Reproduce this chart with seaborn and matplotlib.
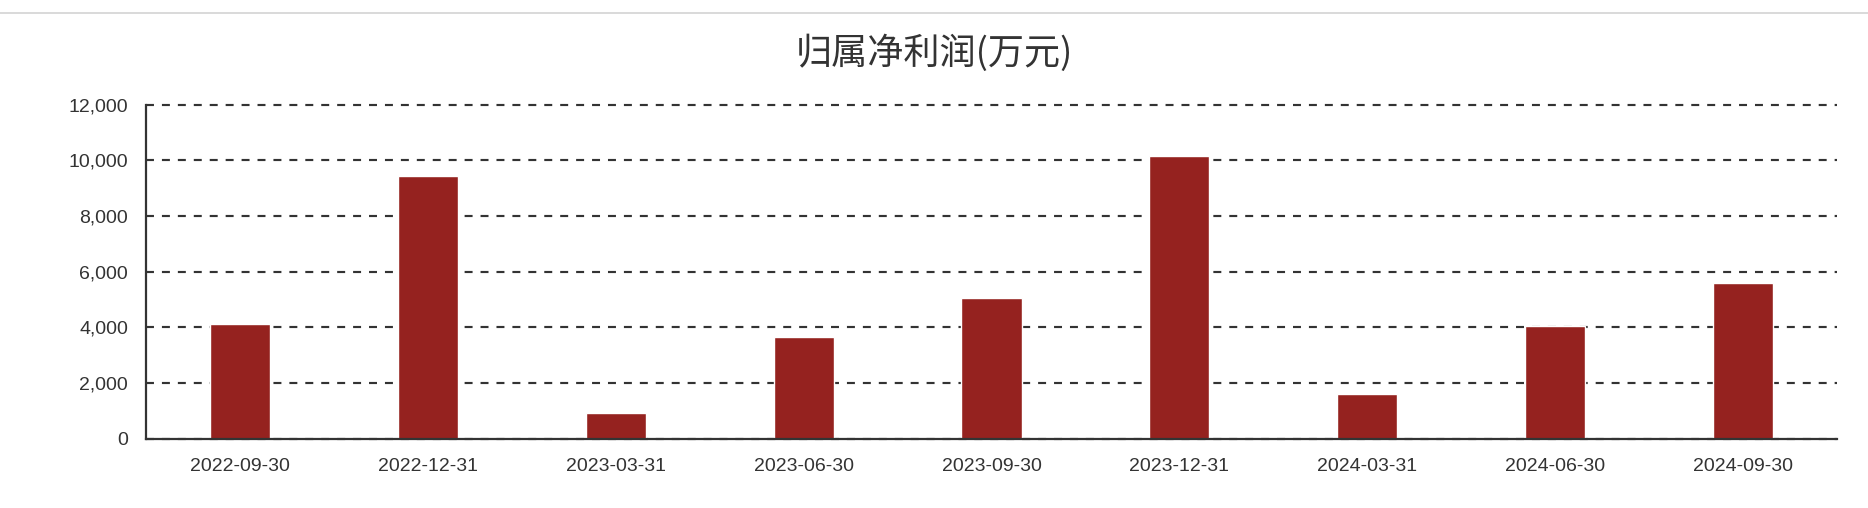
import matplotlib
matplotlib.use("Agg")
import matplotlib.pyplot as plt
from matplotlib.lines import Line2D
from matplotlib.ticker import FuncFormatter
import seaborn as sns
import pandas as pd

# Data
periods = ['2022-09-30', '2022-12-31', '2023-03-31', '2023-06-30', '2023-09-30',
           '2023-12-31', '2024-03-31', '2024-06-30', '2024-09-30']
net_profit = [4110, 9430, 910, 3645, 5055, 10150, 1620, 4060, 5585]
y_ticks = [0, 2000, 4000, 6000, 8000, 10000, 12000]

title_text = '归属净利润(万元)'
bar_color = '#95221f'
text_color = '#333333'

sns.set_theme(style='white')
plt.rcParams['font.family'] = ['Liberation Sans', 'DejaVu Sans']

df = pd.DataFrame({'period': periods, 'value': net_profit})

fig = plt.figure(figsize=(18.68, 5.08), dpi=100)
ax = fig.add_axes([0.0782, 0.1364, 0.9052, 0.6575])

sns.barplot(data=df, x='period', y='value', color=bar_color, width=0.32,
            saturation=1, ax=ax)

ax.set_xlim(-0.5, len(periods) - 0.5)
ax.set_ylim(0, 12000)
ax.set_yticks(y_ticks)
ax.yaxis.set_major_formatter(FuncFormatter(lambda v, p: f'{int(v):,}'))

# dashed horizontal grid
ax.yaxis.grid(True, color=text_color, linewidth=1.55, linestyle=(0, (3.7, 3.7)))
ax.set_axisbelow(True)
for gl in ax.get_ygridlines():
    gl.set_clip_on(False)

for side in ['top', 'right']:
    ax.spines[side].set_visible(False)
for side in ['left', 'bottom']:
    ax.spines[side].set_color(text_color)
    ax.spines[side].set_linewidth(1.6)

ax.tick_params(axis='both', length=0, labelsize=14, colors=text_color)
ax.tick_params(axis='y', pad=13)
ax.tick_params(axis='x', pad=14)
ax.set_xlabel('')
ax.set_ylabel('')

fig.text(0.5, 0.896, title_text, ha='center', va='center', fontsize=26,
         color=text_color, family=['Noto Sans CJK SC', 'DejaVu Sans'])

# thin gray rule along the top of the figure
fig.add_artist(Line2D([0, 1], [0.975, 0.975], transform=fig.transFigure,
                      color='#d9d9d9', linewidth=1.4))

fig.savefig('out.png', dpi=100, facecolor='white')
